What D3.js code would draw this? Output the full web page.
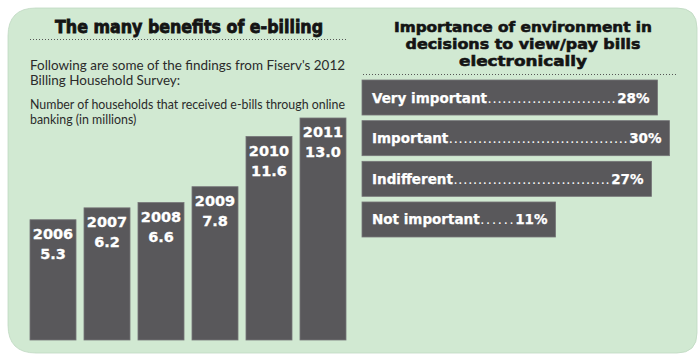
<!DOCTYPE html>
<html>
<head>
<meta charset="utf-8">
<script src="https://cdn.jsdelivr.net/npm/d3@7"></script>
<style>
  html, body { margin: 0; padding: 0; background: #ffffff; }
  svg { display: block; }
</style>
</head>
<body>
<svg id="chart" width="700" height="359"></svg>
<script>
// ---- data ----
const years = ["2006", "2007", "2008", "2009", "2010", "2011"];
const households = [5.3, 6.2, 6.6, 7.8, 11.6, 13.0];
const importanceLabels = ["Very important", "Important", "Indifferent", "Not important"];
const importanceValues = [28, 30, 27, 11];

const leftTitle = "The many benefits of e-billing";
const introLines = ["Following are some of the findings from Fiserv's 2012", "Billing Household Survey:"];
const noteLines = ["Number of households that received e-bills through online", "banking (in millions)"];
const rightTitle = ["Importance of environment in", "decisions to view/pay bills", "electronically"];

// ---- styles ----
const panelFill = "#d1e9d2";
const barFill = "#59585b";
const barStroke = "#767578";
const textDark = "#141414";
const bodyFont = "Lato, 'Open Sans', sans-serif";
const headFont = "'DejaVu Sans', Lato, sans-serif";

const svg = d3.select("#chart");

// panel with rounded corners
const px0 = 8, py0 = 8, px1 = 697, py1 = 353, rTL = 28, r = 20;
const panelPath = d3.path();
panelPath.moveTo(px0 + rTL, py0);
panelPath.lineTo(px1 - r, py0);
panelPath.quadraticCurveTo(px1, py0, px1, py0 + r);
panelPath.lineTo(px1, py1 - r);
panelPath.quadraticCurveTo(px1, py1, px1 - r, py1);
panelPath.lineTo(px0 + rTL, py1);
panelPath.quadraticCurveTo(px0, py1, px0, py1 - rTL);
panelPath.lineTo(px0, py0 + rTL);
panelPath.quadraticCurveTo(px0, py0, px0 + rTL, py0);
panelPath.closePath();
svg.append("path").attr("d", panelPath.toString())
  .attr("fill", panelFill).attr("stroke", "#bfd8c1").attr("stroke-width", 0.8);

// ---- left: title ----
svg.append("text")
  .attr("x", 189).attr("y", 32.5)
  .attr("text-anchor", "middle")
  .attr("font-family", headFont).attr("font-weight", "bold")
  .attr("font-size", 17)
  .attr("textLength", 268).attr("lengthAdjust", "spacingAndGlyphs")
  .attr("fill", textDark).attr("stroke", textDark).attr("stroke-width", 0.8)
  .text(leftTitle);

svg.append("line")
  .attr("x1", 30).attr("x2", 347).attr("y1", 39.5).attr("y2", 39.5)
  .attr("stroke", "#555").attr("stroke-width", 1).attr("stroke-dasharray", "1,2");

// paragraph helper: first line stretched to full width, second line scaled by same ratio
function paragraph(lines, y0) {
  const g = svg.append("g");
  const ts = g.selectAll("text").data(lines).join("text")
    .attr("x", 30).attr("y", (d, i) => y0 + i * 14.5)
    .attr("font-family", bodyFont).attr("font-size", 13.5).attr("fill", "#2b2b2b")
    .text(d => d);
  const nodes = ts.nodes();
  const ratio = 315 / nodes[0].getComputedTextLength();
  nodes.forEach(n => {
    d3.select(n).attr("textLength", n.getComputedTextLength() * ratio)
      .attr("lengthAdjust", "spacingAndGlyphs");
  });
}
paragraph(introLines, 70);
paragraph(noteLines, 109);

// ---- left: column chart ----
const xBand = d3.scaleBand().domain(years).range([30, 346]).paddingInner(0.148).paddingOuter(0);
const yLin = d3.scaleLinear().domain([-3.8, 13]).range([340, 118]);

const cols = svg.append("g").selectAll("g").data(years.map((y, i) => ({ year: y, value: households[i] })))
  .join("g");

cols.append("rect")
  .attr("x", d => xBand(d.year))
  .attr("y", d => yLin(d.value))
  .attr("width", xBand.bandwidth())
  .attr("height", d => yLin.range()[0] - yLin(d.value))
  .attr("fill", barFill).attr("stroke", barStroke).attr("stroke-width", 0.8);

cols.append("text")
  .attr("x", d => xBand(d.year) + xBand.bandwidth() / 2)
  .attr("y", d => yLin(d.value) + 19)
  .attr("text-anchor", "middle")
  .attr("font-family", headFont).attr("font-weight", "bold").attr("font-size", 14.5)
  .attr("fill", "#ffffff").attr("stroke", "#ffffff").attr("stroke-width", 0.3)
  .text(d => d.year);

cols.append("text")
  .attr("x", d => xBand(d.year) + xBand.bandwidth() / 2)
  .attr("y", d => yLin(d.value) + 39)
  .attr("text-anchor", "middle")
  .attr("font-family", headFont).attr("font-weight", "bold").attr("font-size", 14.5)
  .attr("fill", "#ffffff").attr("stroke", "#ffffff").attr("stroke-width", 0.3)
  .text(d => d3.format(".1f")(d.value));

// ---- right: title ----
const rtWidths = [258, 235, 128];
svg.append("g").selectAll("text").data(rightTitle).join("text")
  .attr("x", 523).attr("y", (d, i) => 31.5 + i * 17)
  .attr("text-anchor", "middle")
  .attr("font-family", headFont).attr("font-weight", "bold").attr("font-size", 14.5)
  .attr("textLength", (d, i) => rtWidths[i]).attr("lengthAdjust", "spacingAndGlyphs")
  .attr("fill", textDark).attr("stroke", textDark).attr("stroke-width", 0.6)
  .text(d => d);

svg.append("line")
  .attr("x1", 363).attr("x2", 678).attr("y1", 74.5).attr("y2", 74.5)
  .attr("stroke", "#555").attr("stroke-width", 1).attr("stroke-dasharray", "1,2");

// ---- right: horizontal bars ----
const yBand = d3.scaleBand().domain(importanceLabels).range([80, 237]).paddingInner(0.139).paddingOuter(0);
const xLin = d3.scaleLinear().domain([-21.25, 30]).range([362, 669.5]);

const hb = svg.append("g").selectAll("g")
  .data(importanceLabels.map((l, i) => ({ label: l, value: importanceValues[i] })))
  .join("g");

hb.append("rect")
  .attr("x", xLin.range()[0])
  .attr("y", d => yBand(d.label))
  .attr("width", d => xLin(d.value) - xLin.range()[0])
  .attr("height", yBand.bandwidth())
  .attr("fill", barFill).attr("stroke", barStroke).attr("stroke-width", 0.8);

const barFontSize = 13.5;
hb.each(function(d) {
  const g = d3.select(this);
  const by = yBand(d.label) + yBand.bandwidth() / 2 + 5;
  const lab = g.append("text")
    .attr("x", xLin.range()[0] + 10).attr("y", by)
    .attr("font-family", headFont).attr("font-weight", "bold").attr("font-size", barFontSize)
    .attr("fill", "#ffffff").attr("stroke", "#ffffff").attr("stroke-width", 0.25)
    .text(d.label);
  const val = g.append("text")
    .attr("x", xLin(d.value) - 8).attr("y", by)
    .attr("text-anchor", "end")
    .attr("font-family", headFont).attr("font-weight", "bold").attr("font-size", barFontSize)
    .attr("fill", "#ffffff").attr("stroke", "#ffffff").attr("stroke-width", 0.25)
    .text(d.value + "%");
  const labEnd = xLin.range()[0] + 10 + lab.node().getComputedTextLength() + 1;
  const valStart = xLin(d.value) - 8 - val.node().getComputedTextLength() - 2;
  const gap = valStart - labEnd;
  const n = Math.max(1, Math.floor(gap / 4.8));
  g.append("text")
    .attr("x", labEnd).attr("y", by)
    .attr("font-family", bodyFont).attr("font-size", 13)
    .attr("fill", "#ffffff")
    .attr("textLength", gap).attr("lengthAdjust", "spacing")
    .text(".".repeat(n));
});
</script>
</body>
</html>
